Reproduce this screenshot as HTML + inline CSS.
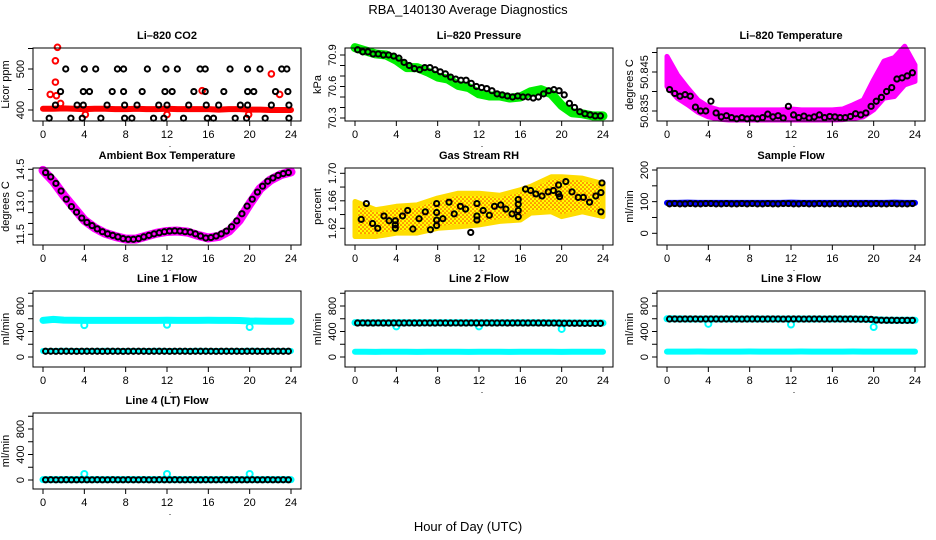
<!DOCTYPE html>
<html><head><meta charset="utf-8"><style>
body{margin:0;background:#fff}
svg{display:block;font-family:"Liberation Sans",Arial,sans-serif}
</style></head><body>
<svg id="fig" width="936" height="540" viewBox="0 0 936 540">
<defs>
<pattern id="rhpat" width="4" height="4" patternUnits="userSpaceOnUse"><rect width="4" height="4" fill="#ffff00"/><circle cx="1" cy="1" r="0.8" fill="#ff3000"/><circle cx="3" cy="3" r="0.8" fill="#ff3000"/></pattern>
</defs>
<text x="468" y="14" font-size="13" text-anchor="middle">RBA_140130  Average Diagnostics</text>
<text x="468" y="531" font-size="13" text-anchor="middle">Hour of Day (UTC)</text>
</svg>
<script>
const hours=[0,1,2,3,4,5,6,7,8,9,10,11,12,13,14,15,16,17,18,19,20,21,22,23,24];
const xTicks=[0,4,8,12,16,20,24];
// CO2
const co2RedBand=[403,403,404,403,402,403,403,402,402,403,402,402,403,402,402,402,402,401,402,402,401,401,400,400,400];
const co2RedOutT=[0.7,1.2,1.2,1.3,1.4,1.7,4.1,12.0,15.4,19.9,22.1,22.9];
const co2RedOutV=[438,520,468,435,553,416,389,389,447,389,488,438];
const co2BlackT=[2.2,4.0,5.1,7.2,7.8,10.1,11.9,13.0,15.2,15.7,18.1,19.8,21.0,23.1,23.6,1.7,3.9,4.5,6.7,7.8,9.6,11.8,12.5,14.6,15.7,17.5,19.8,20.4,22.5,23.7,1.2,3.3,3.9,6.2,7.9,9.1,11.2,12.0,14.1,15.8,17.0,19.1,19.8,22.1,23.8,0.6,2.7,3.8,5.6,7.9,8.6,10.7,11.7,13.6,15.9,16.5,18.6,19.7,21.5,23.8];
const co2BlackV=[500,500,500,500,500,500,500,500,500,500,500,500,500,500,500,445,445,445,445,445,445,445,445,445,445,445,445,445,445,445,412,412,412,412,412,412,412,412,412,412,412,412,412,412,412,380,380,380,380,380,380,380,380,380,380,380,380,380,380,380];
// Pressure
const pressGreen=[70.97,70.94,70.91,70.90,70.85,70.78,70.78,70.74,70.69,70.67,70.61,70.59,70.53,70.51,70.51,70.49,70.50,70.55,70.57,70.53,70.42,70.35,70.34,70.32,70.32];
const pressBlack=[70.95,70.93,70.93,70.91,70.91,70.90,70.90,70.89,70.87,70.83,70.80,70.77,70.76,70.78,70.78,70.76,70.74,70.72,70.69,70.67,70.66,70.66,70.63,70.60,70.59,70.58,70.56,70.53,70.52,70.51,70.50,70.51,70.50,70.50,70.49,70.50,70.53,70.56,70.57,70.56,70.52,70.44,70.40,70.36,70.34,70.33,70.32,70.32];
// Li-820 temperature
const tempMagHi=[50.8490,50.8443,50.8409,50.8378,50.8361,50.8353,50.8353,50.8353,50.8353,50.8353,50.8353,50.8353,50.8355,50.8353,50.8353,50.8353,50.8353,50.8355,50.8366,50.8378,50.8430,50.8478,50.8487,50.8516,50.8468];
const tempMagLo=[50.8413,50.8383,50.8366,50.8347,50.8335,50.8329,50.8327,50.8327,50.8327,50.8327,50.8327,50.8327,50.8327,50.8327,50.8327,50.8327,50.8327,50.8328,50.8331,50.8335,50.8353,50.8383,50.8387,50.8417,50.8426];
const tempBlack=[50.8405,50.8395,50.8388,50.8392,50.8388,50.8360,50.8350,50.8350,50.8375,50.8345,50.8335,50.8338,50.8333,50.8330,50.8333,50.8330,50.8332,50.8330,50.8333,50.8342,50.8335,50.8338,50.8332,50.8362,50.8340,50.8333,50.8337,50.8332,50.8335,50.8340,50.8333,50.8336,50.8335,50.8333,50.8333,50.8336,50.8343,50.8340,50.8345,50.8362,50.8375,50.8385,50.8400,50.8410,50.8432,50.8435,50.8440,50.8448];
// Ambient
const ambMag=[14.45,13.95,13.30,12.72,12.15,11.80,11.55,11.40,11.28,11.28,11.42,11.55,11.63,11.65,11.60,11.45,11.33,11.40,11.65,12.15,12.90,13.60,14.00,14.25,14.38];
const ambBlack=[14.35,14.15,13.85,13.50,13.12,12.78,12.52,12.25,12.05,11.90,11.75,11.62,11.52,11.45,11.38,11.30,11.27,11.27,11.30,11.38,11.45,11.52,11.57,11.62,11.65,11.66,11.65,11.62,11.60,11.52,11.42,11.33,11.35,11.42,11.52,11.65,11.85,12.12,12.45,12.80,13.12,13.45,13.72,13.95,14.10,14.22,14.30,14.35];
// RH
const rhBandT=[0,2,4,6,8,10,12,14,16,17,19,20,22,24];
const rhBandHi=[1.659,1.647,1.652,1.654,1.664,1.671,1.671,1.668,1.676,1.681,1.695,1.695,1.693,1.685];
const rhBandLo=[1.608,1.608,1.613,1.613,1.620,1.622,1.625,1.630,1.632,1.642,1.644,1.637,1.644,1.637];
const rhBlackT=[0.6,1.1,1.7,2.2,2.8,3.3,3.9,3.9,3.9,4.6,5.1,5.6,6.2,6.8,7.3,7.9,7.9,7.9,7.9,8.5,9.1,9.6,10.2,10.7,11.2,11.8,11.8,11.8,12.4,13.0,13.5,14.1,14.6,15.2,15.8,15.8,15.8,15.8,16.5,17.0,17.5,18.1,18.7,19.2,19.7,19.7,19.8,20.4,21.0,21.6,22.1,22.7,23.3,23.8,23.8,23.9];
const rhBlackV=[1.633,1.656,1.627,1.620,1.638,1.631,1.631,1.625,1.620,1.638,1.646,1.619,1.634,1.644,1.618,1.643,1.632,1.624,1.656,1.634,1.658,1.641,1.652,1.648,1.614,1.656,1.638,1.632,1.646,1.639,1.652,1.654,1.648,1.641,1.637,1.646,1.662,1.655,1.677,1.675,1.670,1.667,1.673,1.675,1.683,1.670,1.666,1.688,1.673,1.665,1.665,1.658,1.667,1.672,1.644,1.686];
// Sample flow
const sampBlue=[96,96,97,96,96,96,96,96,96,96,96,96,97,96,96,96,96,96,96,96,96,96,97,96,96];
const sampBlack=[93,94,93,93,94,93,93,94,94,93,93,94,93,93,94,93,94,93,93,94,93,93,94,94,93,93,94,93,93,94,93,93,94,93,93,94,93,93,94,93,94,93,93,94,93,93,93,94];
// Line flows
const outT=[4,12,20];
const l1CyanTop=[575,590,578,576,575,575,575,575,575,575,575,575,576,575,575,575,576,575,574,572,565,562,560,560,560];
const l1CyanBot=[95,95,96,95,95,95,96,95,95,95,95,96,95,95,95,96,95,95,95,95,96,95,95,95,95];
const l1Out=[500,505,470];
const l1Black=[90,90,89,90,90,90,89,90,90,90,90,89,90,90,90,89,90,90,90,90,89,90,90,90,89,90,90,90,89,90,90,90,90,89,90,90,90,90,89,90,90,90,89,90,90,90,90,90];
const l2CyanTop=[540,538,538,538,538,538,538,538,538,538,538,538,538,538,538,538,538,538,538,538,536,534,534,534,534];
const l2CyanBot=[82,82,81,82,82,82,81,82,82,82,82,81,82,82,82,81,82,82,82,82,81,82,82,82,82];
const l2Out=[480,480,440];
const l2Black=[533,534,533,533,534,533,533,534,533,533,534,533,533,534,533,533,534,533,533,534,533,533,534,533,533,534,533,533,534,533,533,534,533,533,534,533,533,532,532,531,530,530,529,529,528,528,528,528];
const l3CyanTop=[600,598,597,597,597,597,597,597,597,597,597,597,597,597,597,597,597,597,597,595,585,578,576,576,576];
const l3CyanBot=[85,85,85,86,85,85,85,85,86,85,85,85,85,86,85,85,85,85,86,85,85,85,85,85,85];
const l3Out=[520,510,470];
const l3Black=[596,596,595,596,596,596,595,596,596,596,595,596,596,596,595,596,596,596,595,596,596,596,595,596,596,596,595,596,596,596,595,596,596,596,595,596,594,593,592,590,580,577,576,576,575,575,575,575];
const l4CyanBand=[5,5,5,5,5,5,5,5,5,5,5,5,5,5,5,5,5,5,5,5,5,5,5,5,5];
const l4Out=[95,95,95];
const l4Black=[3,4,3,3,4,3,3,4,3,3,4,3,3,4,3,3,4,3,3,4,3,3,4,3,3,4,3,3,4,3,3,4,3,3,4,3,3,4,3,3,4,3,3,4,3,3,4,3];
</script>
<script>
const NS='http://www.w3.org/2000/svg';
const svg=document.getElementById('fig');
function mk(tag,attrs,parent){const e=document.createElementNS(NS,tag);for(const k in attrs)e.setAttribute(k,attrs[k]);(parent||svg).appendChild(e);return e;}
const rowTop=[48,168,291,413], rowH=[73,77,76,76];
function halfT(i){return 0.25+0.5*i;}
function panel(col,row,name,title,ylab,a,pa,b,pb,yt,yl){
  const g=mk('g',{});
  
  
  const L=33+312*col,T=rowTop[row],W=268,H=rowH[row],B=T+H;
  const x=t=>43+312*col+t*248/24;
  const y=v=>pa+(v-a)*(pb-pa)/(b-a);
  const plot=mk('g',{},g);
  
  
  const tt=mk('text',{x:L+W/2,y:T-9,'font-size':11,'font-weight':'bold','text-anchor':'middle'},g);
  tt.textContent=title;
  
  
  const ax=mk('g',{stroke:'#000','stroke-width':1,fill:'none'},g);
  
  
  mk('rect',{x:L,y:T,width:W,height:H},ax);
  mk('line',{x1:x(0),x2:x(24),y1:B,y2:B},ax);
  xTicks.forEach(t=>{mk('line',{x1:x(t),x2:x(t),y1:B,y2:B+5},ax);
    const tx=mk('text',{x:x(t),y:B+17,'font-size':11,'text-anchor':'middle',fill:'#000',stroke:'none'},g);tx.textContent=t;
    
    });
  const dot=mk('text',{x:L+137,y:B+26,'font-size':9,'text-anchor':'middle'},g);dot.textContent='.';
  mk('line',{x1:L,x2:L,y1:y(yt[0]),y2:y(yt[yt.length-1])},ax);
  yt.forEach(v=>mk('line',{x1:L-5,x2:L,y1:y(v),y2:y(v)},ax));
  yl.forEach(s=>{const yy=y(parseFloat(s));const tx=mk('text',{x:L-9,y:yy,'font-size':11,'text-anchor':'middle',transform:`rotate(-90 ${L-9} ${yy})`},g);tx.textContent=s;
    
    });
  const yy=(T+B)/2;
  const yt2=mk('text',{x:L-24,y:yy,'font-size':11,'text-anchor':'middle',transform:`rotate(-90 ${L-24} ${yy})`},g);yt2.textContent=ylab;
  
  
  return {x,y,plot};
}
function pts(p,ts,vs,color,r,sw,name,fill){const g=mk('g',{fill:fill||'none',stroke:color,'stroke-width':sw},p.plot);
  
  
  ts.forEach((t,i)=>{const c=mk('circle',{cx:p.x(t),cy:p.y(vs[i]),r:r},g);
    
    });}
function band(p,ts,vs,color,w,name){const g=mk('g',{},p.plot);
  
  
  mk('polyline',{points:ts.map((t,i)=>p.x(t)+','+p.y(vs[i])).join(' '),fill:'none',stroke:color,'stroke-width':w,'stroke-linecap':'round','stroke-linejoin':'round'},g);}
function area(p,ts,hi,lo,fill,name){const g=mk('g',{},p.plot);
  
  
  const up=ts.map((t,i)=>p.x(t)+','+p.y(hi[i]));const dn=ts.map((t,i)=>p.x(t)+','+p.y(lo[i])).reverse();
  mk('polygon',{points:up.concat(dn).join(' '),fill:fill,stroke:fill==='url(#rhpat)'?'#ffdd00':fill,'stroke-width':5,'stroke-linejoin':'round'},g);}
const bT=pressBlack.map((v,i)=>halfT(i));
const BSW=2;
// CO2
let p=panel(0,0,'panel-co2','Li–820 CO2','Licor ppm',400,110,500,69,[400,450,500,550],['400','500']);
band(p,hours,co2RedBand,'#ff0000',6,'co2-red-band');
pts(p,co2RedOutT,co2RedOutV,'#ff0000',2.8,BSW,'co2-red-outliers');
pts(p,co2BlackT,co2BlackV,'#000',2.6,BSW,'co2-black');
// Pressure
p=panel(1,0,'panel-pressure','Li–820 Pressure','kPa',70.9,55,70.3,118,[70.3,70.4,70.5,70.6,70.7,70.8,70.9],['70.3','70.6','70.9']);
band(p,hours,pressGreen,'#00ee00',9,'pressure-green');
pts(p,bT,pressBlack,'#000',2.6,BSW,'pressure-black');
// Temp
p=panel(2,0,'panel-li820-temp','Li–820 Temperature','degrees C',50.845,72,50.835,111,[50.835,50.840,50.845,50.850],['50.835','50.845']);
area(p,hours,tempMagHi,tempMagLo,'#ff00ff','temp-magenta');
pts(p,bT,tempBlack,'#000',2.6,BSW,'temp-black');
// Ambient
p=panel(0,1,'panel-ambient','Ambient Box Temperature','degrees C',14.5,169.3,11.5,234.3,[11.5,12,12.5,13,13.5,14,14.5],['11.5','13.0','14.5']);
band(p,hours,ambMag,'#ff00ff',9,'ambient-magenta');
pts(p,bT,ambBlack,'#000',2.6,BSW,'ambient-black');
// RH
p=panel(1,1,'panel-rh','Gas Stream RH','percent',1.70,173.3,1.62,228.3,[1.62,1.64,1.66,1.68,1.70],['1.62','1.66','1.70']);
area(p,rhBandT,rhBandHi,rhBandLo,'url(#rhpat)','rh-band');
pts(p,rhBlackT,rhBlackV,'#000',2.6,BSW,'rh-black');
// Sample flow
p=panel(2,1,'panel-sample-flow','Sample Flow','ml/min',200,170,0,233.3,[0,50,100,150,200],['0','100','200']);
band(p,hours,sampBlue,'#0000ff',6,'sample-blue');
pts(p,bT,sampBlack,'#000',2.6,BSW,'sample-black');
// Line flows
const fl=[[0,2,'panel-line1-flow','Line 1 Flow',l1CyanTop,l1CyanBot,l1Out,l1Black,357,306],
 [1,2,'panel-line2-flow','Line 2 Flow',l2CyanTop,l2CyanBot,l2Out,l2Black,357,306],
 [2,2,'panel-line3-flow','Line 3 Flow',l3CyanTop,l3CyanBot,l3Out,l3Black,357,306],
 [0,3,'panel-line4-flow','Line 4 (LT) Flow',l4CyanBand,l4CyanBand,l4Out,l4Black,480,429]];
fl.forEach(f=>{p=panel(f[0],f[1],f[2],f[3],'ml/min',0,f[8],800,f[9],[0,200,400,600,800,1000],['0','400','800']);
  band(p,hours,f[4],'#00ffff',7,'cyan-upper');
  band(p,hours,f[5],'#00ffff',6,'cyan-lower');
  pts(p,outT,f[6],'#00ffff',3,BSW,'cyan-outliers');
  pts(p,bT,f[7],'#000',2.6,BSW,'black-points');
});
</script>
</body></html>
